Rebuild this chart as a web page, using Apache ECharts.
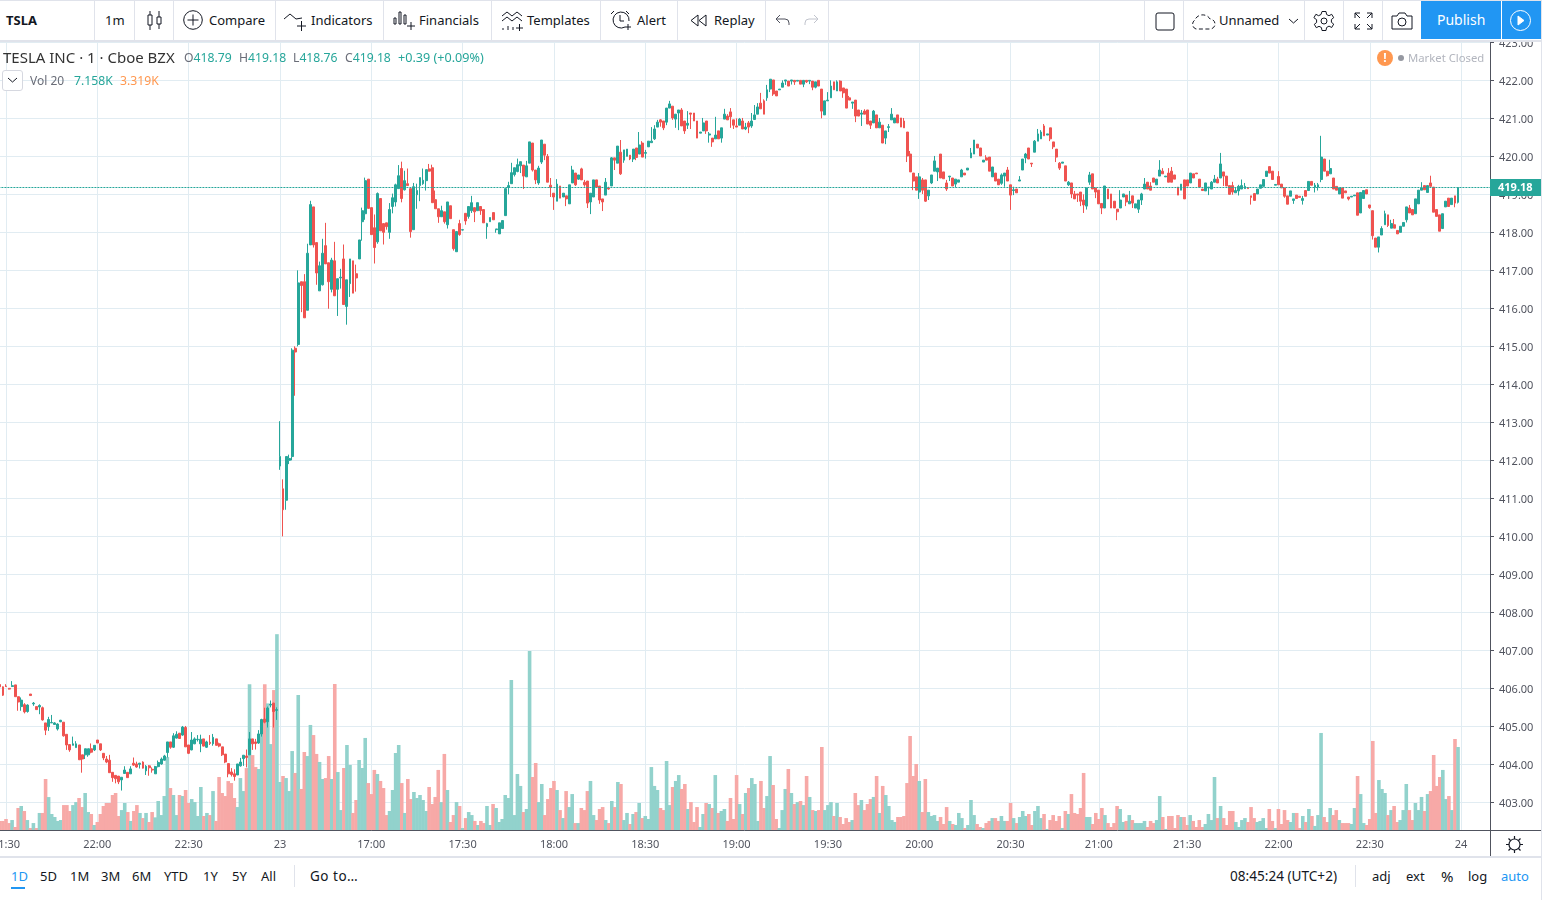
<!DOCTYPE html>
<html>
<head>
<meta charset="utf-8">
<title>TSLA</title>
<script src="https://cdn.jsdelivr.net/npm/echarts@6/dist/echarts.min.js"></script>
<style>
html, body { margin: 0; padding: 0; background: #e0e3eb; overflow: hidden; }
body { width: 1542px; height: 900px; position: relative; font-family: "Noto Sans", sans-serif; color: #131722; }
#chart { position: absolute; left: 0; top: 0; width: 1541px; height: 900px; background: #fff; }
.bar { position: absolute; left: 0; width: 1541px; background: #fff; }
.t { position: absolute; white-space: nowrap; line-height: 16px; font-size: 13px; }
.sep { position: absolute; width: 1px; background: #e0e3eb; }
.ico { position: absolute; fill: none; stroke: #131722; stroke-width: 1; }
.tl { color: #26a69a; }
.gr { color: #6a6d78; }
</style>
</head>
<body>
<div id="chart"></div>

<!-- top toolbar -->
<div class="bar" style="top:0;height:39px;border-top:1px solid #e0e3eb;border-bottom:2px solid #e0e3eb">
  <span class="t" style="left:6px;top:11px;font-weight:700;font-size:13px">TSLA</span>
  <span class="sep" style="left:94px;top:0;height:39px"></span>
  <span class="t" style="left:105px;top:11px">1m</span>
  <span class="sep" style="left:134px;top:0;height:39px"></span>
  <svg class="ico" style="left:146px;top:9px" width="18" height="22"><path d="M4 1v4M4 15v5M2 5h4v10H2zM13 1v6M13 14v5M11 7h4v7h-4z"/></svg>
  <span class="sep" style="left:173px;top:0;height:39px"></span>
  <svg class="ico" style="left:183px;top:9px" width="21" height="21"><circle cx="10" cy="10" r="9.3"/><path d="M10 4.5v11M4.5 10h11"/></svg>
  <span class="t" style="left:209px;top:11px">Compare</span>
  <span class="sep" style="left:275px;top:0;height:39px"></span>
  <svg class="ico" style="left:284px;top:10px" width="23" height="21"><path d="M0 8l6-5 6 5 6-1M13 15h9M17.500 10v10"/></svg>
  <span class="t" style="left:311px;top:11px">Indicators</span>
  <span class="sep" style="left:383px;top:0;height:39px"></span>
  <svg class="ico" style="left:393px;top:8px" width="23" height="22"><path d="M1 9h2v6H1zM6 3h2v12H6zM11 6h2v9h-2zM14 17h8M18 13v8"/></svg>
  <span class="t" style="left:419px;top:11px">Financials</span>
  <span class="sep" style="left:491px;top:0;height:39px"></span>
  <svg class="ico" style="left:501px;top:9px" width="23" height="22"><path d="M1 6l5-4 5 4 5-4 5 4M1 11l5-4 5 4 5-4 5 4M2 20v-2M7 20v-4M12 20v-3M15 18h7M18.500 14v7"/></svg>
  <span class="t" style="left:527px;top:11px">Templates</span>
  <span class="sep" style="left:600px;top:0;height:39px"></span>
  <svg class="ico" style="left:610px;top:9px" width="22" height="23"><path d="M4 1L1 4M16 1l3 3M15 17a8 8 0 1 1 4-6M10 5v6h4M15 17h6M18 14v6"/></svg>
  <span class="t" style="left:637px;top:11px">Alert</span>
  <span class="sep" style="left:677px;top:0;height:39px"></span>
  <svg class="ico" style="left:690px;top:13px" width="17" height="13"><path d="M8 1L1 6.500 8 12zM16 1L9 6.500 16 12z"/></svg>
  <span class="t" style="left:714px;top:11px">Replay</span>
  <span class="sep" style="left:765px;top:0;height:39px"></span>
  <svg class="ico" style="left:775px;top:13px;stroke:#50535e" width="16" height="12"><path d="M5 1L1 5l4 4M1 5h9a4 4 0 0 1 4 4v2"/></svg>
  <svg class="ico" style="left:803px;top:13px;stroke:#c1c4cd" width="16" height="12"><path d="M11 1l4 4-4 4M15 5H6a4 4 0 0 0-4 4v2"/></svg>
  <span class="sep" style="left:828px;top:0;height:39px"></span>
  <span class="sep" style="left:1144px;top:0;height:39px"></span>
  <svg class="ico" style="left:1155px;top:11px" width="20" height="19"><rect x="1" y="1" width="18" height="17" rx="2"/></svg>
  <span class="sep" style="left:1183px;top:0;height:39px"></span>
  <svg class="ico" style="left:1190px;top:11px" width="26" height="18"><path d="M6 17a5 5 0 0 1-1-9 8 7 0 0 1 15-1 5 5 0 0 1 0 10z" stroke-dasharray="4 2.500"/></svg>
  <span class="t" style="left:1219px;top:11px">Unnamed</span>
  <svg class="ico" style="left:1288px;top:17px" width="11" height="7"><path d="M1 1l4.500 4L10 1"/></svg>
  <span class="sep" style="left:1304px;top:0;height:39px"></span>
  <svg class="ico" style="left:1313px;top:9px" width="22" height="22"><circle cx="11" cy="11" r="3"/><path d="M9 2h4l.6 3 2.400 1.200 2.700-1.400 2 3.400-2.300 1.800v2.800l2.300 1.800-2 3.400-2.700-1.400L13.600 18l-.6 3H9l-.6-3-2.400-1.200-2.700 1.400-2-3.400 2.300-1.800v-2.800L.9 8.200l2-3.400L5.600 6.200 8 5z" transform="translate(0 -.5)"/></svg>
  <span class="sep" style="left:1343px;top:0;height:39px"></span>
  <svg class="ico" style="left:1354px;top:11px" width="19" height="18"><path d="M1 6V1h5M1 1l5 5M13 1h5v5M18 1l-5 5M1 12v5h5M1 17l5-5M13 17h5v-5M18 17l-5-5"/></svg>
  <span class="sep" style="left:1382px;top:0;height:39px"></span>
  <svg class="ico" style="left:1391px;top:11px" width="22" height="18"><path d="M1 4h5l2-3h6l2 3h5v13H1z"/><circle cx="11" cy="10" r="4"/></svg>
  <div style="position:absolute;left:1421px;top:0;width:80px;height:38px;background:#2196f3"></div>
  <div style="position:absolute;left:1502px;top:0;width:39px;height:38px;background:#2196f3"></div>
  <span class="t" style="left:1437px;top:11px;color:#fff;font-size:14px">Publish</span>
  <svg class="ico" style="left:1509px;top:8px;stroke:#fff" width="23" height="23"><circle cx="11.500" cy="11.500" r="10"/><path d="M9 7l6 4.500L9 16z" fill="#fff"/></svg>
</div>

<!-- chart legend -->
<span class="t" style="left:3px;top:49px;font-size:15px;color:#333">TESLA INC · 1 · Cboe BZX</span>
<span class="t" style="left:184px;top:50px;font-size:12.2px"><span class="gr">O</span><span class="tl">418.79</span></span>
<span class="t" style="left:239px;top:50px;font-size:12.2px"><span class="gr">H</span><span class="tl">419.18</span></span>
<span class="t" style="left:293px;top:50px;font-size:12.2px"><span class="gr">L</span><span class="tl">418.76</span></span>
<span class="t" style="left:345px;top:50px;font-size:12.2px"><span class="gr">C</span><span class="tl">419.18</span></span>
<span class="t tl" style="left:398px;top:50px;font-size:12.6px">+0.39 (+0.09%)</span>
<div style="position:absolute;left:2px;top:70px;width:19px;height:19px;border:1px solid #d6d8e0;border-radius:3px;background:#fff"></div>
<svg class="ico" style="left:7px;top:77px" width="11" height="7"><path d="M1 1l4.500 4L10 1"/></svg>
<span class="t gr" style="left:30px;top:73px;font-size:12px">Vol 20</span>
<span class="t tl" style="left:74px;top:73px;font-size:12.2px">7.158K</span>
<span class="t" style="left:120px;top:73px;font-size:12.2px;color:#ff9850">3.319K</span>
<div style="position:absolute;left:1377px;top:50px;width:16px;height:16px;border-radius:8px;background:#ff9850;color:#fff;font-size:12px;font-weight:700;text-align:center;line-height:16px">!</div>
<div style="position:absolute;left:1398px;top:55px;width:6px;height:6px;border-radius:3px;background:#9598a1"></div>
<span class="t" style="left:1408px;top:50px;font-size:11.3px;color:#b2b5be">Market Closed</span>

<!-- frame of the price and time scales -->
<div style="position:absolute;left:1490px;top:830px;width:1px;height:26px;background:#50535e"></div>
<div style="position:absolute;left:1490px;top:830px;width:51px;height:1px;background:#50535e"></div>
<svg class="ico" style="left:1506px;top:836px;stroke-width:1.200" width="17" height="17"><circle cx="8.500" cy="8.500" r="5.500"/><path d="M8.500 0v3M8.500 14v3M0 8.500h3M14 8.500h3M2.500 2.500l2 2M12.500 12.500l2 2M14.500 2.500l-2 2M4.500 12.500l-2 2"/></svg>

<!-- bottom bar -->
<div class="bar" style="top:856px;height:37px;border-top:2px solid #e0e3eb">
  <span class="t" style="left:11px;top:10px;color:#2196f3">1D</span>
  <div style="position:absolute;left:11px;top:29px;width:14px;height:2px;background:#2196f3"></div>
  <span class="t" style="left:40px;top:10px">5D</span>
  <span class="t" style="left:70px;top:10px">1M</span>
  <span class="t" style="left:101px;top:10px">3M</span>
  <span class="t" style="left:132px;top:10px">6M</span>
  <span class="t" style="left:164px;top:10px">YTD</span>
  <span class="t" style="left:203px;top:10px">1Y</span>
  <span class="t" style="left:232px;top:10px">5Y</span>
  <span class="t" style="left:261px;top:10px">All</span>
  <span class="sep" style="left:294px;top:7px;height:22px"></span>
  <span class="t" style="left:310px;top:10px;font-size:13.5px;letter-spacing:.5px">Go to…</span>
  <span class="t" style="left:1230px;top:10px;font-size:13.6px">08:45:24 (UTC+2)</span>
  <span class="sep" style="left:1355px;top:7px;height:22px"></span>
  <span class="t" style="left:1372px;top:10px">adj</span>
  <span class="t" style="left:1406px;top:10px">ext</span>
  <span class="t" style="left:1441px;top:10px;font-size:15px">%</span>
  <span class="t" style="left:1468px;top:10px">log</span>
  <span class="t" style="left:1501px;top:10px;color:#2196f3">auto</span>
</div>

<script type="text/javascript">
// tick labels of the time scale and the bar they sit on
var tickIndex = [2, 32, 62, 92, 122, 152, 182, 212, 242, 272, 302, 332, 361, 390, 420, 450, 480];
var tickLabels = ['21:30', '22:00', '22:30', '23', '17:00', '17:30', '18:00', '18:30', '19:00', '19:30', '20:00', '20:30', '21:00', '21:30', '22:00', '22:30', '24'];
var lastPrice = 419.18;

// one minute bars: open, close, low, high
var candles = [
[406.1,406.04,406.02,406.12],[406.04,405.82,405.8,406.05],[406.06,406.05,406.04,406.11],[406,405.98,405.97,406.01],[406.05,406.07,406.04,406.19],
[406.09,405.78,405.78,406.09],[405.78,405.64,405.41,405.78],[405.52,405.69,405.41,405.76],[405.57,405.38,405.34,405.61],[405.39,405.56,405.36,405.58],
[405.85,405.81,405.81,405.85],[405.59,405.61,405.54,405.64],[405.52,405.44,405.44,405.52],[405.51,405.55,405.32,405.58],[405.49,405.17,405.15,405.52],
[405.09,404.9,404.77,405.09],[404.99,405.18,404.88,405.25],[405.09,405.1,405.09,405.3],[405.05,405.09,405.04,405.11],[404.93,405.06,404.89,405.08],
[405.12,405.16,405.11,405.17],[405.11,404.75,404.73,405.11],[404.79,404.51,404.38,404.79],[404.52,404.38,404.33,404.52],[404.5,404.54,404.5,404.73],
[404.44,404.54,404.44,404.61],[404.51,404.12,404.12,404.51],[404.25,404.14,403.78,404.25],[404.25,404.41,404.14,404.41],[404.25,404.41,404.2,404.41],
[404.41,404.32,404.29,404.55],[404.38,404.5,404.35,404.5],[404.64,404.56,404.56,404.64],[404.54,404.38,404.35,404.54],[404.29,404.17,404.11,404.29],
[404.14,404.06,404.03,404.22],[404.11,403.78,403.78,404.25],[403.79,403.65,403.54,403.79],[403.71,403.62,403.5,403.71],[403.69,403.54,403.48,403.69],
[403.59,403.66,403.31,403.66],[403.76,403.85,403.75,403.95],[403.79,403.65,403.65,403.79],[403.75,403.88,403.75,403.95],[404.03,403.98,403.96,404.18],
[404.01,403.93,403.91,404.07],[404,404.03,403.89,404.04],[404.06,403.9,403.89,404.08],[403.83,403.95,403.72,403.98],[403.96,403.91,403.7,403.98],
[403.87,403.85,403.78,403.92],[403.75,403.94,403.75,403.96],[403.94,404.05,403.92,404.1],[404.01,404.14,403.99,404.18],[404.11,404.22,404.1,404.25],
[404.31,404.59,404.18,404.59],[404.59,404.45,404.41,404.59],[404.45,404.75,404.43,404.82],[404.69,404.79,404.68,404.87],[404.82,404.68,404.68,404.82],
[404.77,404.98,404.75,405.01],[404.97,404.46,404.46,405.01],[404.51,404.29,404.27,404.51],[404.38,404.64,404.37,404.85],[404.54,404.67,404.53,404.71],
[404.65,404.66,404.6,404.77],[404.54,404.66,404.32,404.78],[404.67,404.48,404.47,404.67],[404.45,404.59,404.43,404.62],[404.58,404.55,404.51,404.77],
[404.54,404.71,404.49,404.8],[404.67,404.5,404.5,404.67],[404.54,404.48,404.45,404.57],[404.46,404.25,404.22,404.46],[404.27,404.06,404.03,404.27],
[404.02,403.75,403.66,404.02],[403.8,403.73,403.68,403.9],[403.75,403.68,403.57,403.87],[403.72,404.01,403.72,404.01],[403.96,404.06,403.94,404.17],
[404.15,404.24,403.96,404.24],[404.22,404.18,403.92,404.39],[404.25,404.67,404.25,404.85],[404.67,404.54,404.38,404.67],[404.59,404.55,404.39,404.67],
[404.56,404.8,404.54,404.9],[404.8,405.18,404.73,405.2],[405.19,405.11,405.08,405.49],[405.12,405.48,404.97,405.52],[405.56,405.58,405.5,405.68],
[405.61,405.39,404.97,405.62],[405.42,405.44,405.17,405.5],[411.85,412.1,411.75,413.03],[411.25,410.7,410,411.5],[410.95,412.1,410.7,412.1],
[412,412.05,411.9,412.15],[412.1,414.9,412,414.95],[414.95,414.85,413.7,415],[415.05,416.67,415,417],[416.7,416.6,415.9,416.7],
[416.7,415.75,415.75,416.9],[415.95,417.45,415.95,417.7],[417.67,418.73,417.67,418.83],[418.67,417.67,417.6,418.67],[417.73,416.93,416.62,417.73],
[416.46,417.12,416.46,417.23],[416.62,417.45,416.6,417.83],[417.65,417.17,417.17,418.25],[417.2,416.7,415.99,417.2],[416.5,417.27,416.42,417.33],
[417.25,416.33,416.33,417.75],[416.5,416.78,415.8,416.78],[416.8,416.82,416.52,417.04],[417.3,416.1,416.1,417.68],[416.05,416.75,415.57,416.75],
[416.65,417.3,416.3,417.3],[417.25,416.4,416.4,417.25],[416.91,416.8,416.44,417.15],[417.3,417.8,417.3,417.8],[418.28,418.57,417.78,418.65],
[418.49,419.36,418.33,419.44],[419.4,418.63,418.63,419.4],[418.65,417.94,417.94,418.65],[418.12,417.6,417.18,418.47],[417.75,419.02,417.7,419.05],
[418.89,418.04,418.04,418.89],[418.23,418,417.68,418.23],[418.25,418.15,418.07,418.25],[418,418.6,417.83,418.77],[418.68,418.91,418.5,419.02],
[418.8,419.25,418.68,419.28],[419.15,419.49,419.15,419.77],[419.68,418.89,418.79,419.86],[419.12,419.36,419.1,419.62],[419.28,419.23,419.23,419.68],
[419.15,418.02,417.86,419.15],[418.07,419.2,418.07,419.3],[418.99,419.1,418.62,419.28],[419.23,419.44,418.82,419.44],[419.28,419.37,419.25,419.68],
[419.36,419.65,419.1,419.65],[419.67,419.61,419.6,419.8],[419.7,418.78,418.78,419.78],[418.86,418.62,418.62,419.1],[418.62,418.41,418.25,418.62],
[418.41,418.57,418.41,418.7],[418.54,418.28,418.23,418.54],[418.2,418.8,418.1,418.8],[418.7,418.36,418.36,418.7],[418.07,417.57,417.52,418.07],
[417.49,418.02,417.49,418.02],[418.23,417.94,417.91,418.33],[418.06,418.07,418.05,418.08],[418.5,418.3,418.2,418.5],[418.42,418.68,418.36,418.68],
[418.57,418.78,418.51,418.96],[418.65,418.54,418.27,418.65],[418.57,418.78,418.57,418.78],[418.68,418.57,418.46,418.68],[418.6,418.25,418.25,418.6],
[418.15,418.23,417.83,418.25],[418.28,418.39,418.28,418.39],[418.52,418.33,418.33,418.52],[418.07,418.09,417.99,418.09],[417.96,418.25,417.96,418.25],
[418.1,418.31,418.1,418.31],[418.44,419.15,418.44,419.15],[419.18,419.23,419,419.33],[419.28,419.57,419.28,419.83],[419.52,419.7,419.47,419.7],
[419.6,419.78,419.58,419.94],[419.75,419.86,419.56,419.86],[419.77,419.48,419.14,419.77],[419.46,419.75,419.46,419.88],[419.82,420.38,419.82,420.38],
[420.35,419.64,419.6,420.35],[419.64,419.38,419.27,419.64],[419.3,419.69,419.25,419.75],[419.85,420.43,419.8,420.43],[420.32,420.03,419.9,420.32],
[420,419.32,419.32,420.06],[419.24,419.18,418.93,419.43],[419.03,418.93,418.59,419.03],[418.82,419.27,418.82,419.4],[419.22,418.9,418.9,419.22],
[418.93,419.03,418.93,419.03],[418.96,418.88,418.69,418.96],[418.75,419.25,418.75,419.25],[419.3,419.64,419.3,419.75],[419.56,419.25,419.22,419.56],
[419.4,419.51,419.38,419.51],[419.67,419.38,419.38,419.7],[419.32,419.25,419.2,419.38],[419.35,418.77,418.64,419.35],[418.8,419.03,418.48,419.03],
[418.93,419.38,418.93,419.38],[419.38,419.19,419.19,419.38],[419.22,418.85,418.75,419.22],[418.88,418.8,418.56,418.88],[418.98,419.32,418.98,419.43],
[419.17,419.14,419.12,419.2],[419.22,419.96,419.22,419.98],[419.96,419.9,419.64,419.96],[419.82,420.27,419.82,420.27],[420.11,419.54,419.51,420.43],
[419.9,420.17,419.83,420.17],[420,420.19,420,420.19],[420.03,419.93,419.9,420.03],[419.93,420.19,419.85,420.19],[420.22,419.97,419.9,420.22],
[420.06,420.3,420.06,420.64],[420.35,419.98,419.98,420.4],[420.08,420.1,419.94,420.17],[420.25,420.4,420.25,420.4],[420.36,420.4,420.36,420.77],
[420.46,420.72,420.43,420.82],[420.77,420.9,420.77,420.96],[420.96,420.9,420.78,420.98],[420.93,420.75,420.69,420.93],[420.9,421.27,420.82,421.27],
[421.27,421.38,421.27,421.46],[421.32,421.01,420.96,421.32],[420.98,421.11,420.75,421.11],[421.14,421.22,420.69,421.22],[421.22,420.8,420.8,421.27],
[420.93,420.67,420.59,420.93],[420.82,420.87,420.72,421.19],[421.14,421.11,420.72,421.14],[421.14,420.93,420.93,421.14],[420.93,420.48,420.48,420.93],
[420.61,420.64,420.61,420.64],[420.67,420.88,420.67,421.01],[420.93,420.67,420.59,420.93],[420.56,420.59,420.36,420.64],[420.48,420.38,420.25,420.48],
[420.46,420.56,420.46,421.04],[420.67,420.46,420.46,420.67],[420.48,420.75,420.36,420.75],[420.98,421.11,420.98,421.25],[421.06,420.96,420.96,421.11],
[421.17,421.04,420.75,421.27],[420.96,420.82,420.72,420.96],[420.8,420.77,420.77,421],[420.82,420.98,420.82,421.01],[420.93,420.72,420.72,421.01],
[420.72,420.77,420.69,420.88],[420.88,420.77,420.61,420.93],[420.8,420.93,420.75,421.14],[420.97,421.09,420.96,421.35],[421.11,421.3,421.11,421.4],
[421.4,421.25,421.25,421.67],[421.46,421.11,421.11,421.5],[421.54,421.75,421.46,421.88],[421.77,422.03,421.69,422.03],[422.01,421.64,421.59,422.01],
[421.72,421.59,421.59,421.72],[421.75,421.77,421.75,421.77],[421.82,421.93,421.82,422],[421.98,422.01,421.88,422.01],[421.98,421.85,421.85,421.98],
[421.98,422.01,421.89,422.01],[422,421.96,421.88,422],[421.98,422,421.98,422],[422,421.9,421.9,422],[421.9,422,421.82,422],
[422,421.96,421.93,422],[421.98,422,421.9,422],[421.98,421.82,421.74,421.98],[421.82,421.96,421.79,421.96],[422,421.85,421.85,422],
[421.77,421.19,421,421.77],[421.09,421.46,421.09,421.46],[421.46,421.48,421.46,421.69],[421.54,421.85,421.54,422],[421.96,421.75,421.75,421.96],
[421.72,421.96,421.72,422],[421.98,421.72,421.72,422],[421.8,421.67,421.54,421.8],[421.77,421.27,421.27,421.77],[421.54,421.48,421.48,421.59],
[421.4,421.43,421.25,421.43],[421.48,421.06,420.9,421.48],[421.22,421.06,421.06,421.22],[421.11,421.14,420.8,421.22],[421.19,421.11,421.11,421.24],
[421.22,420.85,420.85,421.22],[420.93,420.82,420.72,420.93],[420.88,421.19,420.88,421.22],[421.09,420.75,420.75,421.09],[420.75,420.9,420.75,421.01],
[420.82,420.35,420.35,420.82],[420.48,420.67,420.32,420.67],[420.76,420.78,420.64,420.85],[420.96,421.11,420.96,421.27],[420.88,421.01,420.88,421.01],
[421.09,420.88,420.88,421.09],[421.01,420.77,420.77,421.01],[420.93,420.75,420.75,421.01],[420.64,420.01,419.85,420.64],[420.06,419.59,419.59,420.14],
[419.56,419.35,419.11,419.56],[419.46,419.11,419.11,419.46],[419.06,419.46,418.88,419.56],[419.38,419.11,419.01,419.43],[419.38,418.82,418.8,419.38],
[418.96,419.11,418.85,419.11],[419.3,419.51,419.27,419.51],[419.61,419.88,419.61,420.01],[419.59,419.69,419.35,419.69],[420.06,419.43,419.43,420.06],
[419.59,419.41,419.41,419.59],[419.3,419.14,419.09,419.38],[419.46,419.48,419.35,419.48],[419.43,419.22,419.22,419.43],[419.27,419.4,419.18,419.4],
[419.32,419.38,419.32,419.38],[419.46,419.64,419.46,419.67],[419.56,419.51,419.51,419.56],[419.64,419.69,419.64,419.69],[419.96,420.09,419.96,420.22],
[420.06,420.43,420.06,420.43],[420.32,420.22,420.22,420.32],[420.22,420.01,420.01,420.22],[419.85,419.9,419.85,419.9],[419.96,419.9,419.9,420.03],
[419.98,419.61,419.61,419.98],[419.46,419.72,419.46,419.72],[419.56,419.35,419.35,419.56],[419.4,419.25,419.25,419.4],[419.29,419.51,419.25,419.55],
[419.48,419.56,419.2,419.56],[419.64,419.35,419.35,419.72],[419.25,418.98,418.59,419.25],[419.1,419.12,418.98,419.2],[419.14,419.04,419.04,419.14],
[419.35,419.38,419.35,419.48],[419.64,419.93,419.64,419.93],[419.96,420.06,419.82,420.09],[420.22,419.93,419.93,420.22],[419.82,419.8,419.72,419.82],
[420.11,420.4,420.11,420.43],[420.4,420.59,420.4,420.72],[420.46,420.64,420.46,420.69],[420.8,420.54,420.54,420.85],[420.56,420.59,420.56,420.59],
[420.75,420.46,420.4,420.75],[420.38,420.25,420.19,420.38],[420.19,419.98,419.85,420.19],[419.82,419.69,419.64,419.85],[419.82,419.85,419.82,419.85],
[419.75,419.35,419.35,419.75],[419.25,419.32,419.22,419.35],[419.3,419.01,418.9,419.3],[419.01,418.88,418.88,419.09],[419.01,418.98,418.8,419.01],
[419.06,418.82,418.69,419.06],[418.85,418.72,418.51,419],[418.69,419.17,418.6,419.17],[419.32,419.51,419.25,419.59],[419.54,419.14,419.14,419.54],
[419.17,419.06,418.9,419.17],[419.11,418.75,418.75,419.11],[418.76,418.64,418.48,418.76],[418.64,419.22,418.64,419.22],[419.14,418.88,418.88,419.14],
[419.01,418.64,418.64,419.01],[418.82,418.64,418.64,418.82],[418.61,418.54,418.32,418.61],[418.64,418.85,418.64,419.11],[418.93,419.01,418.93,419.01],
[418.98,418.8,418.69,418.98],[418.75,418.82,418.75,419.09],[418.96,418.77,418.64,418.96],[418.64,418.75,418.64,418.75],[418.61,418.85,418.51,418.85],
[418.85,419.01,418.72,419.04],[419.14,419.27,419.14,419.43],[419.32,419.14,419.14,419.32],[419.22,419.11,419.11,419.32],[419.43,419.32,419.32,419.43],
[419.25,419.4,419.25,419.4],[419.48,419.64,419.48,419.9],[419.61,419.54,419.54,419.69],[419.46,419.48,419.46,419.48],[419.56,419.32,419.32,419.69],
[419.61,419.32,419.32,419.72],[419.51,419.4,419.4,419.51],[419.19,418.98,418.98,419.19],[419.11,419.27,419.11,419.27],[419.38,418.88,418.88,419.38],
[419.38,419.22,419.22,419.38],[419.3,419.56,419.3,419.56],[419.54,419.43,419.43,419.54],[419.56,419.54,419.54,419.56],[419.4,419.19,419.19,419.4],
[419.14,419.1,419.1,419.14],[419.09,419.3,419.09,419.3],[419.17,419.19,418.98,419.19],[419.14,419.32,419.14,419.35],[419.32,419.4,419.32,419.51],
[419.4,419.3,419.3,419.46],[419.43,419.8,419.43,420.09],[419.59,419.48,419.22,419.59],[419.48,419.22,419.22,419.48],[419.23,419,419,419.23],
[419.23,419.06,418.99,419.33],[419.04,419.1,419.04,419.17],[419.09,419.21,418.97,419.25],[419.14,419.23,419.14,419.39],[419.15,419.21,419.15,419.3],
[419.18,419.15,419.15,419.18],[418.96,418.92,418.73,418.96],[419.02,418.84,418.84,419.02],[419.01,419.14,419.01,419.14],[419.16,419.25,419.16,419.25],
[419.21,419.39,419.21,419.39],[419.47,419.61,419.47,419.61],[419.73,419.56,419.56,419.73],[419.61,419.39,419.39,419.61],[419.24,419.26,419.24,419.26],
[419.47,419.25,419.25,419.61],[419.27,419.17,419.17,419.27],[419.17,418.95,418.91,419.17],[418.96,418.74,418.74,418.96],[418.95,419.09,418.95,419.09],
[418.84,418.88,418.75,418.88],[418.98,418.89,418.89,418.98],[418.95,418.92,418.92,418.95],[418.84,418.89,418.73,418.96],[419.1,418.95,418.95,419.1],
[419.1,419.34,419.1,419.34],[419.34,419.24,419.24,419.34],[419.19,419.24,419.05,419.3],[419.19,419.25,419.1,419.3],[419.39,419.98,419.32,420.54],
[419.93,419.61,419.61,419.93],[419.61,419.49,419.47,419.61],[419.54,419.68,419.54,419.91],[419.43,419.14,419.14,419.43],[419.21,419.11,419.11,419.21],
[419.01,419.17,419.01,419.17],[419.17,418.9,418.9,419.17],[419.09,419.04,419.04,419.09],[418.93,418.88,418.84,418.93],[418.93,418.95,418.93,418.95],
[418.96,418.98,418.96,418.98],[419.04,418.45,418.45,419.04],[418.51,419.05,418.51,419.05],[418.89,419.1,418.89,419.1],[419.12,419.01,419.01,419.12],
[418.72,418.65,418.62,418.72],[418.57,417.91,417.81,418.57],[417.85,417.61,417.61,417.85],[417.61,417.88,417.47,417.88],[417.93,418.1,417.93,418.16],
[418.2,418.49,418.2,418.57],[418.46,418.18,418.14,418.46],[418.11,418.23,418.11,418.33],[418.2,418.11,418.11,418.35],[418.05,417.96,417.96,418.05],
[418,418.16,418,418.16],[418.16,418.26,418.16,418.26],[418.33,418.67,418.26,418.67],[418.64,418.51,418.51,418.72],[418.6,418.46,418.46,418.6],
[418.49,418.88,418.49,418.88],[418.75,419.11,418.75,419.11],[419.11,419.17,419.11,419.32],[419.23,419.12,419.12,419.23],[419.05,419.23,419.05,419.23],
[419.3,419.21,419.21,419.49],[419.19,418.53,418.53,419.19],[418.6,418.42,418.42,418.6],[418.46,418.03,418.03,418.46],[418.1,418.49,418.1,418.49],
[418.67,418.82,418.67,418.82],[418.9,418.68,418.68,418.9],[418.73,418.9,418.73,418.9],[418.96,418.77,418.66,418.96],[418.79,419.18,418.76,419.18]
];

// volume of each bar, in thousands of shares
var volumes = [
0.78,0.78,0.95,0.60,0.86,0.26,1.90,2.07,1.64,0.86,0.17,0.60,0.17,1.47,1.47,4.40,2.84,1.38,1.12,0.78,
0.86,2.15,2.15,1.64,2.15,2.41,2.76,1.98,3.19,1.55,1.38,0.43,0.69,1.38,2.07,2.33,2.33,3.02,3.19,1.21,
1.72,2.33,1.55,0.78,1.64,2.15,1.47,1.03,1.47,0.69,1.55,1.09,2.50,1.29,2.93,6.29,3.62,3.02,1.29,3.02,
2.93,3.45,2.33,2.67,2.41,1.21,3.71,1.21,1.47,1.29,3.36,0.78,4.57,3.19,2.93,4.22,4.05,2.76,1.98,4.48,
3.36,5.34,12.58,6.46,5.43,5.26,8.96,12.58,10.92,7.41,12.07,16.89,4.14,4.66,4.48,3.36,6.81,4.92,11.64,3.54,
6.73,6.38,9.06,8.19,6.56,5.87,4.40,4.48,6.38,4.40,12.59,5.00,1.72,5.35,7.33,5.61,1.47,2.59,6.04,5.35,
7.94,4.05,3.10,5.18,4.83,4.23,3.62,1.29,1.64,3.45,6.64,7.33,4.05,1.47,4.40,2.67,3.28,2.76,3.02,2.59,
1.64,3.71,2.24,2.85,5.18,2.41,6.56,3.45,0.69,1.29,2.41,2.07,0.17,1.03,1.55,1.29,0.78,0.43,0.78,0.60,
2.07,0.43,2.24,1.90,0.69,0.95,3.02,2.76,12.94,1.29,4.83,3.80,1.55,1.81,15.44,4.57,5.78,2.41,3.97,1.29,
2.67,3.62,4.23,3.45,1.72,1.03,3.36,1.98,3.10,0.60,0.60,1.90,1.72,3.36,4.23,1.29,0.86,1.81,1.98,0.86,
0.60,2.50,1.98,4.14,3.97,0.86,1.47,0.52,1.38,1.55,2.33,1.03,1.21,0.95,5.43,3.80,3.45,1.90,1.72,5.95,
2.15,3.71,4.23,4.74,3.54,3.97,1.81,2.41,0.69,1.98,0.26,1.38,2.33,2.24,1.90,4.74,1.47,1.64,1.81,0.78,
2.76,0.95,4.74,2.24,1.38,3.19,3.62,4.48,3.97,0.78,4.23,1.90,2.93,6.38,3.88,0.95,0.17,1.72,3.54,5.26,
3.19,2.24,2.41,2.50,2.15,4.66,2.85,1.72,1.64,1.72,7.16,1.72,2.15,2.41,1.21,2.33,1.12,0.52,1.03,0.69,
0.86,3.19,2.15,2.59,1.72,2.24,2.67,2.85,4.66,1.47,3.80,3.02,2.07,0.86,0.69,1.12,1.12,1.21,4.05,8.11,
4.66,5.69,4.23,1.55,4.40,1.55,1.21,1.29,0.78,1.12,0.52,1.98,0.78,0.52,0.43,1.47,1.03,0.17,0.43,2.59,
1.29,0.52,0.26,0.17,0.60,0.78,1.03,1.03,0.78,1.21,0.78,0.78,2.33,1.03,0.60,1.12,1.64,1.21,1.38,0.43,
1.64,2.07,1.03,1.38,0.09,0.86,1.29,0.78,1.21,0.17,1.64,1.38,3.10,1.47,1.38,1.90,4.92,1.12,1.12,0.52,
1.47,0.95,1.90,1.29,0.60,0.26,0.60,2.07,1.81,0.69,0.78,1.29,0.86,0.60,0.60,0.60,0.78,0.26,0.78,0.60,
0.86,2.93,1.12,0.09,1.21,1.21,0.17,1.29,1.12,1.12,0.43,1.29,0.78,0.26,0.86,0.26,0.52,1.38,0.86,4.57,
1.03,2.07,1.03,0.43,1.64,1.64,0.69,0.26,0.86,1.03,0.69,1.98,1.03,0.69,0.78,1.03,0.17,1.81,0.78,0.17,
1.81,0.52,1.72,0.86,0.69,1.47,1.47,0.17,1.21,0.69,1.81,1.21,0.35,1.29,8.37,1.12,0.69,1.90,1.29,1.72,
0.86,0.60,0.60,0.60,0.52,1.90,4.66,3.10,0.60,0.43,0.95,7.68,1.47,4.31,3.54,3.19,1.29,1.72,2.07,0.69,
0.86,1.72,3.97,1.72,0.86,2.33,1.72,2.85,1.64,3.10,3.36,6.47,3.80,4.57,5.18,2.67,2.93,1.72,7.85,7.158
];

var upColor = '#26a69a';
var downColor = '#ef5350';
var upVolume = '#92d2cc';
var downVolume = '#f7a9a7';
var gridColor = '#e1ecf2';
var axisColor = '#50535e';
var slots = 490; // room for the empty bars up to the price scale

var categories = [];
for (var i = 0; i < slots; i++) {
    categories.push(i);
}

var volumeData = volumes.map(function (v, i) {
    var up = candles[i][1] >= candles[i][0];
    return { value: v, itemStyle: { color: up ? upVolume : downVolume } };
});

function isTick(index) {
    return tickIndex.indexOf(index) >= 0;
}

var myChart = echarts.init(document.getElementById('chart'), null, { renderer: 'canvas' });

myChart.setOption({
    animation: false,
    backgroundColor: '#fff',
    grid: [
        // 423 sits just under the toolbar, 403 at y=803
        { left: -1.6, top: 42.34, width: 1491.6, height: 760, outerBoundsMode: 'none' },
        { left: -1.6, top: 40, width: 1491.6, height: 790, outerBoundsMode: 'none' },
        // price labels only, a little below their ticks
        { left: -1.6, top: 44.3, width: 1491.6, height: 760, outerBoundsMode: 'none' }
    ],
    xAxis: [{
        type: 'category',
        gridIndex: 0,
        data: categories,
        show: false
    }, {
        type: 'category',
        gridIndex: 1,
        data: categories,
        axisLine: { lineStyle: { color: axisColor, width: 1 } },
        axisTick: { interval: isTick, alignWithLabel: true, length: 4, lineStyle: { color: axisColor } },
        splitLine: { show: true, interval: isTick, alignWithLabel: true, lineStyle: { color: gridColor, width: 1 } },
        axisLabel: {
            interval: isTick,
            hideOverlap: false,
            color: axisColor,
            fontFamily: 'Noto Sans',
            fontSize: 11,
            margin: 9,
            formatter: function (value, index) {
                return tickLabels[tickIndex.indexOf(index)];
            }
        }
    }, {
        type: 'category',
        gridIndex: 2,
        data: categories,
        show: false
    }],
    yAxis: [{
        type: 'value',
        gridIndex: 0,
        position: 'right',
        min: 403,
        max: 423,
        interval: 1,
        axisLine: { show: false },
        axisTick: { show: true, length: 4, lineStyle: { color: axisColor } },
        splitLine: { show: true, lineStyle: { color: gridColor, width: 1 } },
        axisLabel: { show: false }
    }, {
        type: 'value',
        gridIndex: 1,
        position: 'right',
        min: 0,
        max: 68.14, // volume bars keep to the lower part of the pane
        axisLine: { show: true, onZero: false, lineStyle: { color: axisColor, width: 1 } },
        axisTick: { show: false },
        axisLabel: { show: false },
        splitLine: { show: false }
    }, {
        type: 'value',
        gridIndex: 2,
        position: 'right',
        min: 403,
        max: 423,
        interval: 1,
        axisLine: { show: false },
        axisTick: { show: false },
        splitLine: { show: false },
        axisLabel: {
            color: axisColor,
            fontFamily: 'Noto Sans',
            fontSize: 11,
            margin: 9,
            formatter: function (v) { return v.toFixed(2); }
        }
    }],
    series: [{
        name: 'Vol',
        type: 'bar',
        xAxisIndex: 1,
        yAxisIndex: 1,
        barWidth: 3.6,
        data: volumeData,
        silent: true,
        z: 2
    }, {
        name: 'TSLA',
        type: 'candlestick',
        xAxisIndex: 0,
        yAxisIndex: 0,
        barWidth: 2.4,
        silent: true,
        z: 3,
        itemStyle: {
            color: upColor,
            color0: downColor,
            borderColor: upColor,
            borderColor0: downColor,
            borderWidth: 1
        },
        data: candles,
        markLine: {
            silent: true,
            symbol: 'none',
            animation: false,
            lineStyle: { color: upColor, type: [2, 1], width: 1 },
            label: {
                position: 'end',
                formatter: lastPrice.toFixed(2),
                backgroundColor: upColor,
                color: '#fff',
                fontFamily: 'Noto Sans',
                fontWeight: 'bold',
                fontSize: 11,
                distance: 0,
                padding: [3, 9, 3, 8]
            },
            data: [{ yAxis: lastPrice }]
        }
    }]
});
</script>
</body>
</html>
